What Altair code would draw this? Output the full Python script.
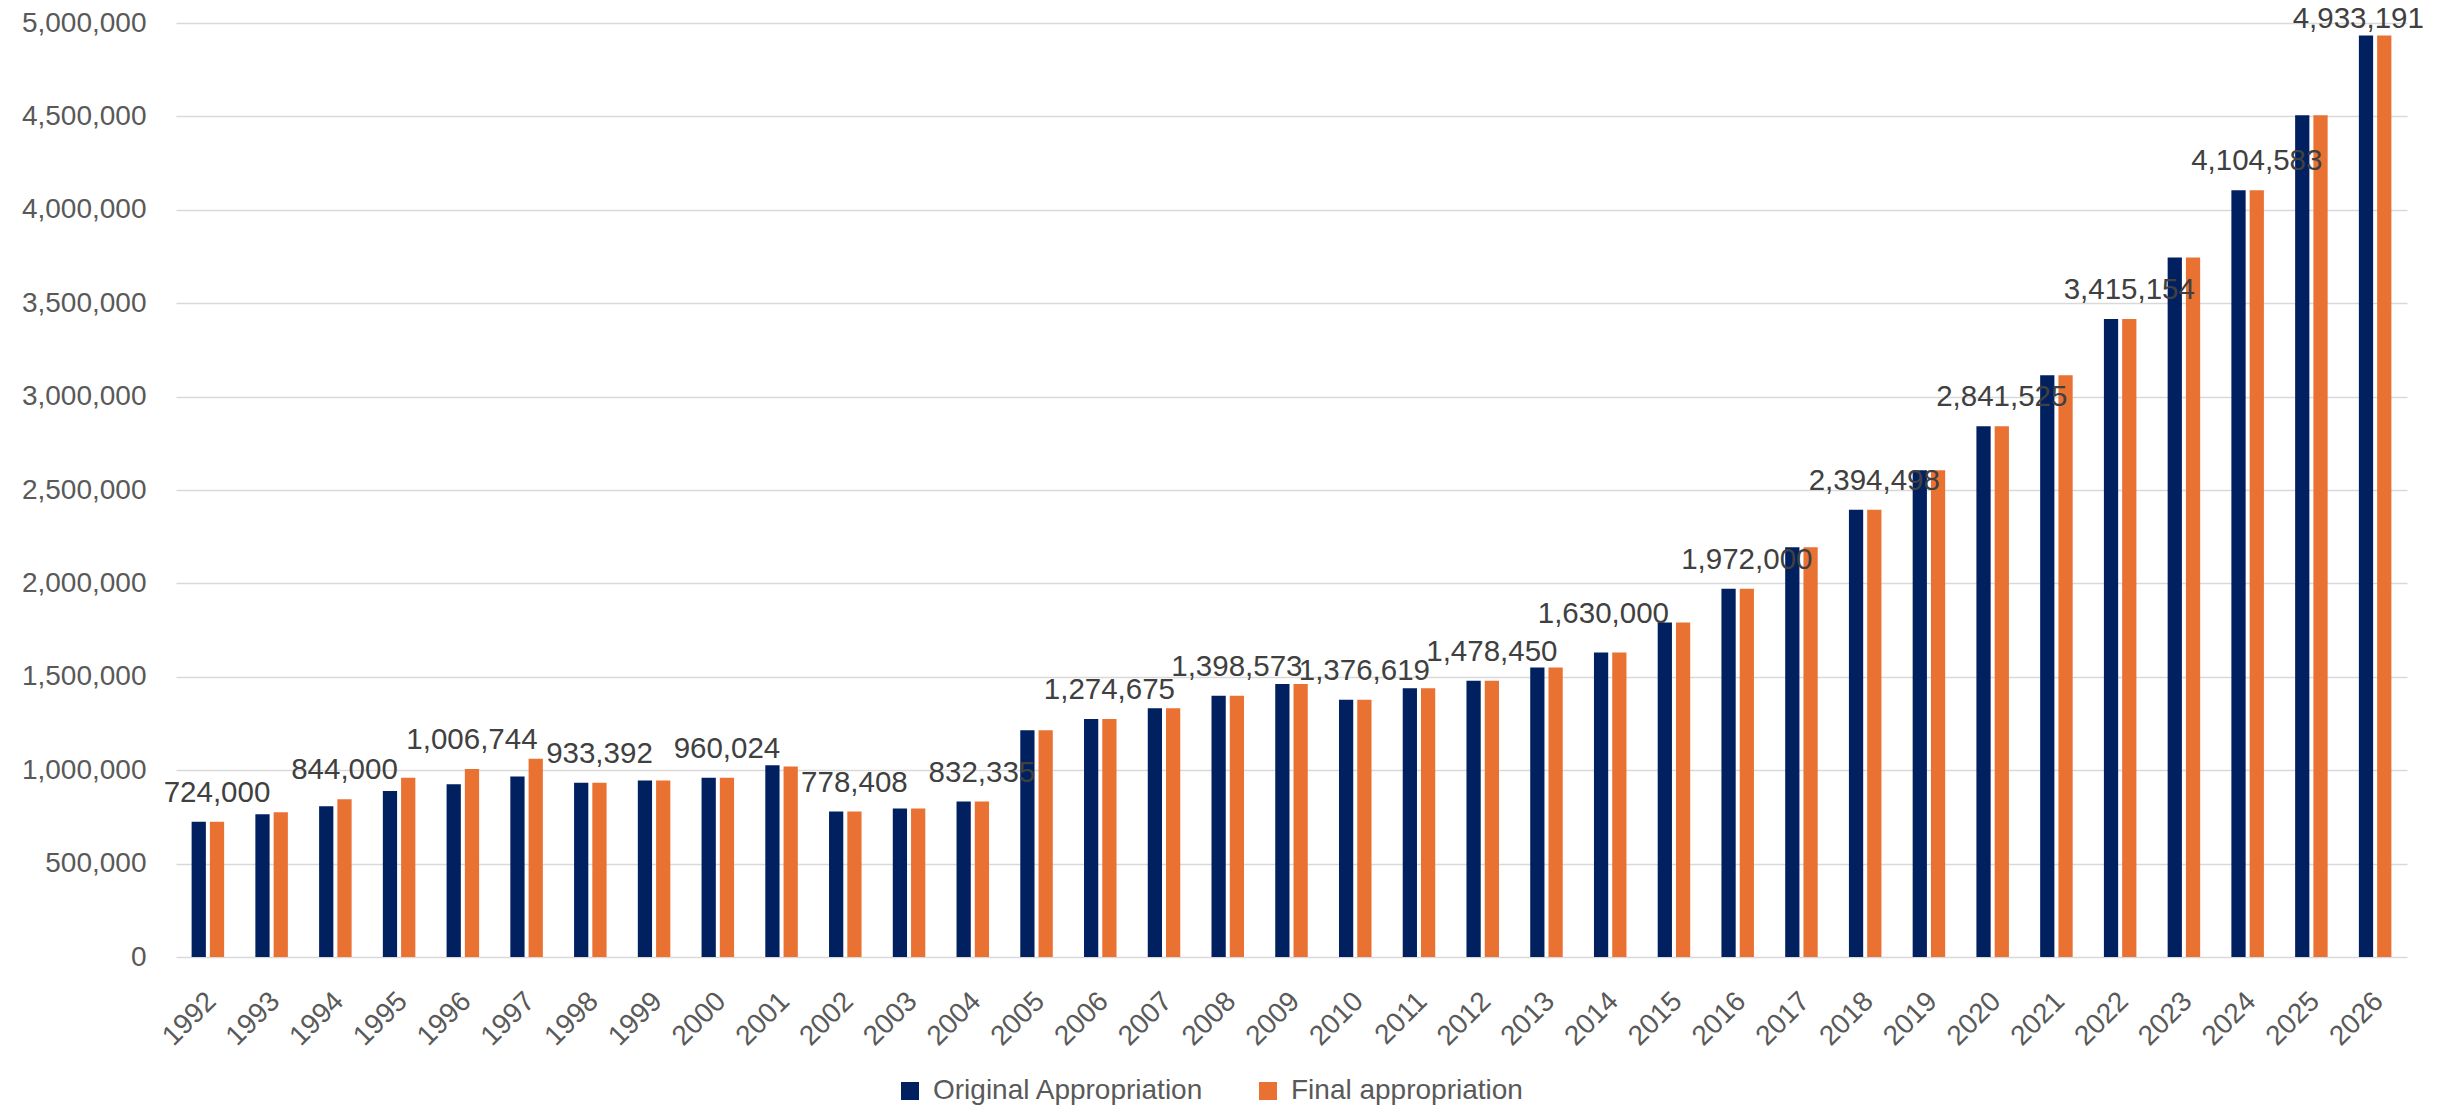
import altair as alt
import pandas as pd

# Appropriations by fiscal year
years = [str(y) for y in range(1992, 2027)]

original = [
    724000, 764000, 807000, 889000, 925000, 966000, 933392, 945000, 960024, 1027000,
    778408, 795000, 832335, 1214000, 1274675, 1332000, 1398573, 1462000, 1376619, 1439000,
    1478450, 1550000, 1630000, 1791000, 1972000, 2194000, 2394498, 2606000, 2841525, 3114000,
    3415154, 3744000, 4104583, 4506000, 4933191,
]
final = [
    724000, 775000, 844000, 959000, 1006744, 1061000, 933392, 945000, 960024, 1020000,
    778408, 795000, 832335, 1214000, 1274675, 1332000, 1398573, 1462000, 1376619, 1439000,
    1478450, 1550000, 1630000, 1791000, 1972000, 2194000, 2394498, 2606000, 2841525, 3114000,
    3415154, 3744000, 4104583, 4506000, 4933191,
]

series_names = ["Original Appropriation", "Final appropriation"]
series_colors = ["#002060", "#E97132"]

# years whose final appropriation carries a value label
labeled_years = [str(y) for y in range(1992, 2027, 2)]

rows = []
for i, yr in enumerate(years):
    rows.append({"year": yr, "series": series_names[0], "value": original[i]})
    rows.append({"year": yr, "series": series_names[1], "value": final[i]})
df = pd.DataFrame(rows)

labels_df = pd.DataFrame(
    [{"year": yr, "series": series_names[1], "value": final[years.index(yr)]} for yr in labeled_years]
)

FONT = "Liberation Sans"
GRID = "#d9d9d9"

x_enc = alt.X(
    "year:N",
    sort=years,
    title=None,
    scale=alt.Scale(paddingInner=0.49, paddingOuter=0.245),
    axis=alt.Axis(
        labelAngle=-45,
        labelFontSize=28,
        labelFont=FONT,
        labelColor="#595959",
        labelPadding=30,
        labelOffset=-6,
        ticks=False,
        domain=False,
        grid=False,
    ),
)
xoff_enc = alt.XOffset(
    "series:N",
    sort=series_names,
    scale=alt.Scale(domain=series_names, paddingInner=0.22, paddingOuter=0),
)
y_enc = alt.Y(
    "value:Q",
    title=None,
    scale=alt.Scale(domain=[0, 5000000], nice=False),
    axis=alt.Axis(
        values=list(range(0, 5000001, 500000)),
        format=",d",
        labelFontSize=28,
        labelFont=FONT,
        labelColor="#595959",
        labelPadding=30,
        ticks=False,
        domain=False,
        gridColor=GRID,
        gridWidth=1.5,
    ),
)

bars = alt.Chart(df).mark_bar().encode(
    x=x_enc,
    xOffset=xoff_enc,
    y=y_enc,
    color=alt.Color(
        "series:N",
        sort=series_names,
        scale=alt.Scale(domain=series_names, range=series_colors),
        legend=alt.Legend(
            title=None,
            orient="none",
            direction="horizontal",
            legendX=720,
            legendY=1054,
            symbolType="square",
            symbolSize=324,
            symbolStrokeWidth=0,
            labelFontSize=28,
            labelFont=FONT,
            labelColor="#595959",
            labelOffset=9,
            labelLimit=0,
            columnPadding=50,
            padding=0,
        ),
    ),
)


def value_labels(data, dx=0, dy=-20):
    return alt.Chart(data).mark_text(
        baseline="alphabetic",
        align="center",
        dx=dx,
        dy=dy,
        fontSize=29.5,
        font=FONT,
        color="#404040",
    ).encode(
        x=alt.X("year:N", sort=years),
        xOffset=alt.XOffset("series:N", sort=series_names),
        y=alt.Y("value:Q"),
        text=alt.Text("value:Q", format=",d"),
    )


regular = labels_df[~labels_df["year"].isin(["2014", "2026"])]
label_2014 = labels_df[labels_df["year"] == "2014"]
label_2026 = labels_df[labels_df["year"] == "2026"]

chart = alt.layer(
    bars,
    value_labels(regular),
    value_labels(label_2014, dx=-16, dy=-30),
    value_labels(label_2026, dx=-26, dy=-7),
).properties(
    width=2231,
    height=934,
    background="white",
    padding={"left": 176, "top": 23, "right": 41, "bottom": 154},
    autosize=alt.AutoSizeParams(type="none"),
).configure_view(
    stroke=None
)

chart.save("out.html", embed_options={"renderer": "svg", "actions": False})
